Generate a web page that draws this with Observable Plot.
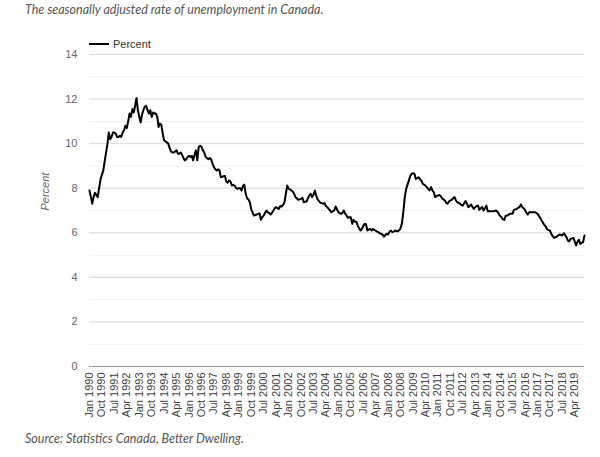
<!DOCTYPE html>
<html><head><meta charset="utf-8">
<script src="https://cdn.jsdelivr.net/npm/d3@7"></script>
<script src="https://cdn.jsdelivr.net/npm/@observablehq/plot@0.6"></script>
<style>
body{margin:0;background:#fff;width:600px;height:457px;overflow:hidden;position:relative;font-family:"Liberation Sans",Arial,sans-serif}
#title{position:absolute;left:25px;top:2px;font:italic 12.5px Lato;color:#555;white-space:nowrap}
#source{position:absolute;left:25px;top:431px;font:italic 12.5px Lato;color:#555;white-space:nowrap}
#chart{position:absolute;left:0;top:25px}
#legend{position:absolute;left:89px;top:37px;height:14px;font:11px "Liberation Sans",Arial,sans-serif;color:#333;display:flex;align-items:center;z-index:2}
#legend svg{margin-right:4px}
</style></head>
<body>
<div id="title">The seasonally adjusted rate of unemployment in Canada.</div>
<div id="chart"></div>
<div id="legend"><svg width="20" height="4"><line x1="0" x2="20" y1="2" y2="2" stroke="#000" stroke-width="2"/></svg><span>Percent</span></div>
<div id="source">Source: Statistics Canada, Better Dwelling.</div>
<script>
const seriesName = "Percent";
const startYear = 1990;
// monthly, Jan 1990 - Nov 2019
const values = [
 7.9,7.6,7.3,7.6,7.8,7.7,7.6,8.0,8.4,8.6,8.8,9.2,
 9.6,10.0,10.5,10.2,10.3,10.5,10.5,10.45,10.3,10.3,10.35,10.3,
 10.5,10.6,10.8,10.7,11.0,11.35,11.2,11.55,11.4,11.7,12.05,11.5,
 11.2,10.95,11.3,11.5,11.65,11.7,11.5,11.35,11.5,11.2,11.4,11.35,
 11.35,11.2,10.75,10.9,10.85,10.45,10.15,10.1,10.05,10.0,9.8,9.65,
 9.6,9.6,9.65,9.7,9.55,9.55,9.6,9.5,9.35,9.25,9.3,9.4,
 9.45,9.4,9.45,9.25,9.5,9.7,9.25,9.85,9.9,9.87,9.7,9.6,
 9.4,9.35,9.3,9.35,9.3,9.1,8.95,8.85,8.8,8.85,8.8,8.5,
 8.5,8.55,8.55,8.3,8.25,8.35,8.3,8.12,8.15,8.12,8.0,7.97,
 8.0,8.0,7.9,8.1,8.16,7.75,7.55,7.5,7.37,7.05,6.9,6.77,
 6.8,6.82,6.85,6.87,6.58,6.7,6.77,6.9,7.0,6.92,6.88,6.82,
 6.9,7.0,7.1,7.15,7.1,7.07,7.2,7.18,7.25,7.37,7.75,8.12,
 7.97,7.95,7.9,7.85,7.75,7.6,7.55,7.48,7.5,7.52,7.57,7.37,
 7.4,7.4,7.55,7.67,7.75,7.6,7.7,7.9,7.67,7.5,7.42,7.35,
 7.33,7.3,7.33,7.2,7.15,7.07,7.0,6.92,6.97,7.0,7.18,7.05,
 6.92,6.88,6.85,6.9,7.0,6.85,6.77,6.67,6.7,6.7,6.4,6.58,
 6.5,6.5,6.33,6.2,6.1,6.17,6.3,6.4,6.38,6.1,6.15,6.17,
 6.1,6.17,6.12,6.1,6.05,6.03,5.98,5.95,5.92,5.83,5.9,5.96,
 5.92,6.05,6.1,6.03,6.05,6.1,6.08,6.07,6.12,6.2,6.45,6.95,
 7.6,7.97,8.15,8.35,8.55,8.65,8.67,8.65,8.42,8.45,8.49,8.4,
 8.34,8.2,8.16,8.12,8.05,7.97,7.9,8.05,7.9,7.82,7.6,7.65,
 7.67,7.7,7.65,7.55,7.5,7.45,7.35,7.3,7.4,7.45,7.48,7.55,
 7.6,7.45,7.37,7.35,7.3,7.25,7.22,7.33,7.42,7.3,7.15,7.2,
 7.27,7.15,7.07,7.15,7.2,7.22,7.03,7.1,7.15,7.0,7.1,7.22,
 6.97,6.97,6.97,6.97,6.97,6.98,7.0,6.95,6.85,6.75,6.7,6.6,
 6.58,6.77,6.77,6.8,6.85,6.85,6.85,7.03,7.05,7.07,7.12,7.15,
 7.27,7.15,7.1,7.03,6.9,6.82,6.92,6.92,6.92,6.92,6.92,6.9,
 6.85,6.75,6.67,6.55,6.45,6.35,6.28,6.15,6.12,6.1,5.95,5.85,
 5.77,5.8,5.83,5.88,5.92,5.9,5.88,5.98,5.9,5.8,5.65,5.62,
 5.73,5.75,5.77,5.6,5.43,5.6,5.68,5.5,5.55,5.58,5.88
];
const tickLabels = ["Jan 1990","Oct 1990","Jul 1991","Apr 1992","Jan 1993","Oct 1993","Jul 1994","Apr 1995","Jan 1996","Oct 1996","Jul 1997","Apr 1998","Jan 1999","Oct 1999","Jul 2000","Apr 2001","Jan 2002","Oct 2002","Jul 2003","Apr 2004","Jan 2005","Oct 2005","Jul 2006","Apr 2007","Jan 2008","Oct 2008","Jul 2009","Apr 2010","Jan 2011","Oct 2011","Jul 2012","Apr 2013","Jan 2014","Oct 2014","Jul 2015","Apr 2016","Jan 2017","Oct 2017","Jul 2018","Apr 2019"];
const yTicks = [0,2,4,6,8,10,12,14];
const yMinor = [1,3,5,7,9,11,13];

const data = values.map((v,i)=>({date:new Date(Date.UTC(startYear, i, 1)), value:v}));
const parse = d3.utcParse("%b %Y");
const xTicks = tickLabels.map(parse);

const chart = Plot.plot({
  width: 600, height: 400,
  marginLeft: 89, marginRight: 16, marginTop: 29, marginBottom: 59,
  style: {fontFamily: "Liberation Sans, Arial, sans-serif", fontSize: "11px", color: "#666", background: "#fff"},
  x: {type: "utc", domain: [data[0].date, data[data.length-1].date]},
  y: {domain: [0, 14]},
  marks: [
    Plot.ruleY(yMinor, {stroke: "#f0f0f0"}),
    Plot.ruleY(yTicks.filter(v => v > 0), {stroke: "#d8d8d8"}),
    Plot.ruleY([0], {stroke: "#999"}),
    Plot.axisY({ticks: yTicks, tickSize: 0, tickPadding: 12, label: null, fill: "#666"}),
    Plot.axisX({ticks: xTicks, tickFormat: d3.utcFormat("%b %Y"), tickRotate: -90, tickSize: 0, tickPadding: 6, label: null, fill: "#444"}),
    Plot.text([seriesName], {frameAnchor: "left", dx: -44, rotate: -90, fontStyle: "italic", fill: "#666"}),
    Plot.lineY(data, {x: "date", y: "value", stroke: "#000", strokeWidth: 2})
  ]
});
document.getElementById("chart").appendChild(chart);
</script>
</body></html>
